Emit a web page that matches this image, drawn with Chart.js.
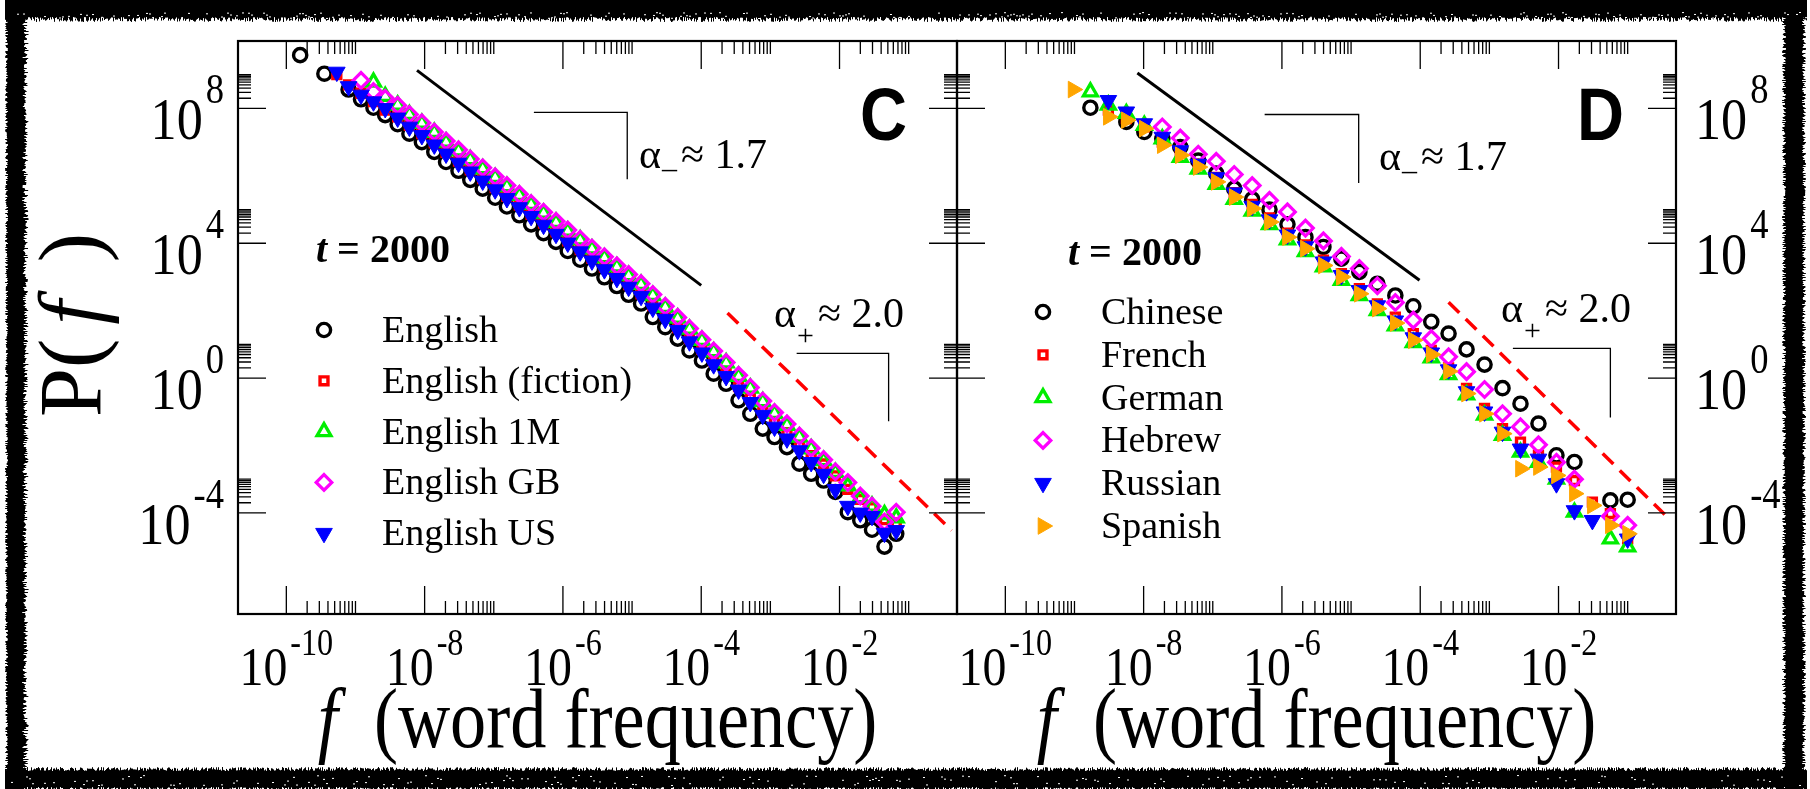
<!DOCTYPE html>
<html>
<head>
<meta charset="utf-8">
<script src="https://cdn.jsdelivr.net/npm/chart.js@4.4.1/dist/chart.umd.min.js"></script>
<style>
  html, body { margin: 0; padding: 0; background: #fff; }
  #wrap { position: relative; width: 1810px; height: 789px; overflow: hidden; background: #fff; }
  #wrap canvas { position: absolute; left: 0; top: 0; }
</style>
</head>
<body>
<div id="wrap">
  <canvas id="frame" width="1810" height="789"></canvas>
  <canvas id="chartC" width="1810" height="789"></canvas>
  <canvas id="chartD" width="1810" height="789"></canvas>
</div>
<script>
// ---- panel C: English corpora, log10 f bins and log10 P(f) ----
const binsC = [-9.80, -9.62, -9.45, -9.27, -9.10, -8.92, -8.74, -8.57, -8.39, -8.22,
  -8.04, -7.86, -7.69, -7.51, -7.34, -7.16, -6.98, -6.81, -6.63, -6.46,
  -6.28, -6.10, -5.93, -5.75, -5.58, -5.40, -5.22, -5.05, -4.87, -4.70,
  -4.52, -4.34, -4.17, -3.99, -3.82, -3.64, -3.46, -3.29, -3.11, -2.94,
  -2.76, -2.58, -2.41, -2.23, -2.06, -1.88, -1.70, -1.53, -1.35, -1.18];
const pEnglish = [9.58, null, 9.03, null, 8.56, 8.27, 8.02, 7.80, 7.53, 7.25,
  7.00, 6.71, 6.41, 6.15, 5.88, 5.62, 5.35, 5.09, 4.83, 4.56,
  4.30, 4.04, 3.77, 3.51, 3.25, 2.99, 2.73, 2.47, 2.21, 1.81,
  1.51, 1.17, 0.82, 0.52, 0.13, -0.17, -0.66, -1.06, -1.50, -1.75,
  -2.05, -2.54, -2.84, -3.04, -3.38, -3.98, -4.22, -4.50, -5.00, -4.62];
const pFiction = [null, null, null, 9.00, 8.70, 8.45, 8.20, 7.95, 7.75, 7.50,
  7.25, 6.98, 6.70, 6.44, 6.18, 5.92, 5.65, 5.39, 5.13, 4.86,
  4.60, 4.34, 4.07, 3.81, 3.55, 3.29, 3.03, 2.77, 2.50, 2.15,
  1.85, 1.50, 1.17, 0.85, 0.50, 0.15, -0.25, -0.60, -1.00, -1.30,
  -1.62, -2.00, -2.30, -2.55, -2.90, -3.30, -3.60, -3.85, -4.20, -4.30];
const p1M = [null, null, null, null, null, null, 8.78, 8.36, 8.10, 7.82,
  7.56, 7.29, 7.00, 6.74, 6.48, 6.21, 5.95, 5.68, 5.42, 5.15,
  4.89, 4.62, 4.36, 4.10, 3.83, 3.57, 3.30, 3.04, 2.78, 2.45,
  2.10, 1.78, 1.45, 1.12, 0.78, 0.45, 0.05, -0.30, -0.70, -1.05,
  -1.40, -1.75, -2.10, -2.45, -2.80, -3.20, -3.55, -3.80, -4.05, -4.15];
const pGB = [null, null, null, null, null, 8.83, 8.50, 8.30, 8.09, 7.82,
  7.57, 7.30, 7.03, 6.77, 6.50, 6.24, 5.97, 5.71, 5.45, 5.18,
  4.92, 4.65, 4.39, 4.12, 3.86, 3.60, 3.33, 3.07, 2.80, 2.48,
  2.13, 1.80, 1.47, 1.14, 0.80, 0.46, 0.08, -0.28, -0.68, -1.02,
  -1.36, -1.72, -2.08, -2.42, -2.78, -3.10, -3.50, -3.80, -4.27, -3.98];
const pUS = [null, null, null, 9.08, 8.65, 8.40, 8.20, 8.00, 7.72, 7.45,
  7.20, 6.92, 6.65, 6.38, 6.12, 5.85, 5.59, 5.33, 5.06, 4.80,
  4.54, 4.27, 4.01, 3.75, 3.48, 3.22, 2.96, 2.70, 2.43, 2.08,
  1.75, 1.42, 1.08, 0.75, 0.40, 0.05, -0.35, -0.72, -1.10, -1.45,
  -1.80, -2.15, -2.50, -2.85, -3.30, -3.80, -4.00, -4.10, -4.60, -4.52];

// ---- panel D: other languages ----
const binsD = [-9.02, -8.77, -8.51, -8.25, -7.99, -7.73, -7.47, -7.21, -6.95, -6.69,
  -6.43, -6.18, -5.92, -5.66, -5.40, -5.14, -4.88, -4.62, -4.36, -4.10,
  -3.84, -3.59, -3.33, -3.07, -2.81, -2.55, -2.29, -2.03, -1.77, -1.51,
  -1.25, -1.00];
const pChinese = [null, 8.02, null, 7.60, 7.30, 7.10, 6.85, 6.45, 6.07, 5.62,
  5.30, 5.00, 4.56, 4.18, 3.89, 3.54, 3.15, 2.80, 2.45, 2.13,
  1.67, 1.32, 0.85, 0.40, -0.30, -0.76, -1.35, -2.29, -2.49, null,
  -3.63, -3.61];
const pFrench = [null, null, 7.95, 7.70, 7.45, 7.00, 6.70, 6.35, 5.95, 5.50,
  5.15, 4.75, 4.30, 3.95, 3.50, 3.10, 2.65, 2.20, 1.81, 1.32,
  0.82, 0.30, -0.31, -0.90, -1.50, -1.90, -2.29, -2.64, -3.04, -3.68,
  -4.02, -4.77];
const pGerman = [null, 8.49, 8.10, 7.85, 7.50, 7.10, 6.55, 6.20, 5.75, 5.30,
  4.95, 4.55, 4.10, 3.75, 3.30, 2.90, 2.45, 2.00, 1.55, 1.05,
  0.60, 0.10, -0.50, -1.10, -1.70, -2.20, -2.50, -3.00, -3.98, null,
  -4.77, -5.01];
const pHebrew = [null, null, null, null, null, 7.45, 7.12, 6.64, 6.43, 6.04,
  5.71, 5.27, 4.93, 4.45, 4.07, 3.61, 3.25, 2.74, 2.24, 1.72,
  1.17, 0.63, 0.19, -0.34, -1.06, -1.45, -1.98, -2.50, -3.00, null,
  -4.10, -4.37];
const pRussian = [null, null, 8.24, 7.90, 7.55, 7.15, 6.75, 6.35, 5.95, 5.50,
  5.10, 4.70, 4.25, 3.90, 3.45, 3.05, 2.60, 2.15, 1.70, 1.20,
  0.75, 0.25, -0.40, -1.00, -1.60, -2.10, -2.40, -3.13, -3.93, -4.22,
  null, -4.77];
const pSpanish = [8.56, null, 7.75, 7.65, 7.40, 6.91, 6.61, 6.26, 5.82, 5.37,
  5.03, 4.63, 4.18, 3.84, 3.34, 3.00, 2.50, 2.06, 1.63, 1.12,
  0.70, 0.20, -0.46, -1.06, -1.65, -2.69, -2.64, -2.89, -3.43, -3.78,
  -4.37, -4.62];

// guide lines and slope brackets (log10 f, log10 P)
const slopeMinusC = { x: [-8.11, -4.00], y: [9.13, 2.75] };
const slopePlusC = { x: [-3.62, -0.38], y: [1.93, -4.52] };
const slopeMinusD = { x: [-8.09, -4.01], y: [9.05, 2.90] };
const slopePlusD = { x: [-3.59, -0.38], y: [2.25, -4.22] };
const bracketMinusC = { x: [-6.42, -5.07, -5.07], y: [7.88, 7.88, 5.90] };
const bracketPlusC = { x: [-2.62, -1.29, -1.29], y: [0.73, 0.73, -1.28] };
const bracketMinusD = { x: [-6.25, -4.89, -4.89], y: [7.82, 7.82, 5.79] };
const bracketPlusD = { x: [-2.66, -1.25, -1.25], y: [0.88, 0.88, -1.17] };

// axis ticks (exponents)
const xMajor = [-10, -8, -6, -4, -2];
const yMajor = [-4, 0, 4, 8];

const SERIF = '"Liberation Serif", "Times New Roman", serif';
const NARROW = 0.87;

function toPoints(bins, vals) {
  const pts = [];
  bins.forEach((b, i) => { if (vals[i] !== null) pts.push({ x: 10 ** b, y: 10 ** vals[i] }); });
  return pts;
}
function toLine(g) { return g.x.map((v, i) => ({ x: 10 ** v, y: 10 ** g.y[i] })); }

function markerSet(label, pts, m, order) {
  return {
    label, data: pts, showLine: false, order,
    pointStyle: m.style, pointRadius: m.r, pointRotation: m.rot || 0,
    pointBorderWidth: m.bw, pointBorderColor: m.color,
    pointBackgroundColor: m.fill ? m.color : 'rgba(0,0,0,0)'
  };
}
function guideSet(g, color, width, dash) {
  return { data: toLine(g), showLine: true, borderColor: color, borderWidth: width,
    borderDash: dash || [], pointRadius: 0, order: 30, fill: false };
}

const M = {
  circle: { style: 'circle', r: 6.6, bw: 3.4, color: '#000000' },
  square: { style: 'rect', r: 5.6, bw: 3.4, color: '#ff0000' },
  up: { style: 'triangle', r: 8, bw: 3.3, color: '#00ee00' },
  diamond: { style: 'rectRot', r: 7.8, bw: 3.2, color: '#ff00ff' },
  down: { style: 'triangle', rot: 180, r: 9.6, bw: 1, color: '#0000ff', fill: true },
  right: { style: 'triangle', rot: 90, r: 9.6, bw: 1, color: '#ffa500', fill: true }
};

// "10" with a raised exponent
function powLabel(ctx, exp, x, base, align, big, small, raise) {
  ctx.font = big + 'px ' + SERIF;
  const w1 = ctx.measureText('10').width * NARROW;
  ctx.font = small + 'px ' + SERIF;
  const w2 = ctx.measureText(exp).width * NARROW;
  const gap = 3;
  const total = w1 + gap + w2;
  const left = align === 'right' ? x - total : align === 'center' ? x - total / 2 : x;
  ctx.save();
  ctx.translate(left, base);
  ctx.scale(NARROW, 1);
  ctx.font = big + 'px ' + SERIF;
  ctx.fillText('10', 0, 0);
  ctx.font = small + 'px ' + SERIF;
  ctx.fillText(exp, (w1 + gap) / NARROW, -raise);
  ctx.restore();
}

function alphaLabel(ctx, x, base, sub, value) {
  ctx.font = '42px ' + SERIF;
  ctx.fillText('\u03b1', x, base);
  let cx = x + ctx.measureText('\u03b1').width + 1;
  ctx.font = '30px ' + SERIF;
  const s = sub === '+' ? '+' : '\u2013';
  ctx.fillText(s, cx, base + (sub === '+' ? 18 : 10));
  cx += ctx.measureText(s).width + 4;
  ctx.font = '42px ' + SERIF;
  ctx.fillText('\u2248 ' + value, cx, base);
}

function yearLabel(ctx, x, base) {
  ctx.font = 'italic bold 40px ' + SERIF;
  ctx.fillText('t', x, base);
  const w = ctx.measureText('t').width;
  ctx.font = 'bold 40px ' + SERIF;
  ctx.fillText(' = 2000', x + w, base);
}

function xTitle(ctx, cx, base) {
  const it = 'italic 84px ' + SERIF, n = '84px ' + SERIF;
  ctx.font = it; const w1 = ctx.measureText('f').width;
  ctx.font = n; const w2 = ctx.measureText('  (word frequency)').width;
  const total = (w1 + w2) * 0.86;
  ctx.save();
  ctx.translate(cx - total / 2, base);
  ctx.scale(0.86, 1);
  ctx.font = it; ctx.fillText('f', 0, 0);
  ctx.font = n; ctx.fillText('  (word frequency)', w1, 0);
  ctx.restore();
}

// vertical "P( f )", written upward from its baseline point
function yTitle(ctx, x, yStart) {
  const n = '88px ' + SERIF, it = 'italic 88px ' + SERIF;
  ctx.save();
  ctx.translate(x, yStart);
  ctx.rotate(-Math.PI / 2);
  ctx.font = n;
  const w1 = ctx.measureText('P(').width;
  ctx.fillText('P(', 0, 0);
  ctx.font = it;
  const w2 = ctx.measureText('f').width;
  ctx.fillText('f', w1 + 14, 0);
  ctx.font = n;
  ctx.fillText(')', w1 + 14 + w2 + 38, 0);
  ctx.restore();
}

const decor = {
  id: 'decor',
  afterDatasetsDraw(chart, args, o) {
    const { ctx, chartArea: a, scales: { x, y } } = chart;
    ctx.save();
    ctx.strokeStyle = '#000';
    ctx.lineWidth = 1.3;
    ctx.beginPath();
    xMajor.forEach(e => {
      const p = x.getPixelForValue(10 ** e);
      ctx.moveTo(p, a.bottom); ctx.lineTo(p, a.bottom - 28);
      ctx.moveTo(p, a.top); ctx.lineTo(p, a.top + 28);
      for (let k = 2; k <= 10; k++) {
        const q = x.getPixelForValue(k * 10 ** e);
        ctx.moveTo(q, a.bottom); ctx.lineTo(q, a.bottom - 13);
        ctx.moveTo(q, a.top); ctx.lineTo(q, a.top + 13);
      }
    });
    yMajor.forEach(e => {
      const p = y.getPixelForValue(10 ** e);
      ctx.moveTo(a.left, p); ctx.lineTo(a.left + 28, p);
      ctx.moveTo(a.right, p); ctx.lineTo(a.right - 28, p);
      for (let k = 2; k <= 10; k++) {
        const q = y.getPixelForValue(k * 10 ** e);
        ctx.moveTo(a.left, q); ctx.lineTo(a.left + 13, q);
        ctx.moveTo(a.right, q); ctx.lineTo(a.right - 13, q);
      }
    });
    ctx.stroke();
    ctx.lineWidth = 2.2;
    ctx.strokeRect(a.left, a.top, a.right - a.left, a.bottom - a.top);
    ctx.restore();
  },
  afterDraw(chart, args, o) {
    const { ctx, chartArea: a, scales: { x, y } } = chart;
    ctx.save();
    ctx.fillStyle = '#000';
    ctx.textBaseline = 'alphabetic';

    xMajor.forEach(e => powLabel(ctx, String(e), x.getPixelForValue(10 ** e), a.bottom + 71, 'center', 55, 37, 30));
    yMajor.forEach(e => {
      const p = y.getPixelForValue(10 ** e);
      if (o.labelSide === 'left') powLabel(ctx, String(e), a.left - 14, p + 31, 'right', 60, 42, 36);
      else powLabel(ctx, String(e), a.right + 19, p + 31, 'left', 60, 42, 36);
    });

    xTitle(ctx, (a.left + a.right) / 2, 747);
    if (o.labelSide === 'left') yTitle(ctx, 100, 417);

    // panel letter
    ctx.save();
    ctx.translate(a.left + o.letterX, 140);
    ctx.scale(0.88, 1);
    ctx.font = 'bold 74px "Liberation Sans", Arial, sans-serif';
    ctx.fillText(o.letter, 0, 0);
    ctx.restore();

    alphaLabel(ctx, a.left + o.alphaMinus[0], o.alphaMinus[1], '-', '1.7');
    alphaLabel(ctx, a.left + o.alphaPlus[0], o.alphaPlus[1], '+', '2.0');
    yearLabel(ctx, a.left + o.year[0], o.year[1]);

    // legend, drawn with the datasets' own point styles
    const draw = Chart.helpers && Chart.helpers.drawPoint;
    o.legend.forEach((idx, i) => {
      const ds = chart.data.datasets[idx];
      const cy = o.legendTop + i * o.legendStep;
      ctx.save();
      ctx.strokeStyle = ds.pointBorderColor;
      ctx.fillStyle = ds.pointBackgroundColor;
      ctx.lineWidth = ds.pointBorderWidth;
      draw(ctx, { pointStyle: ds.pointStyle, rotation: ds.pointRotation, radius: ds.pointRadius,
        borderWidth: ds.pointBorderWidth }, a.left + o.legendX, cy);
      ctx.restore();
      ctx.font = '38px ' + SERIF;
      ctx.fillText(ds.label, a.left + o.legendX + 58, cy + 12);
    });
    ctx.restore();
  }
};

function makePanel(id, left, right, datasets, opts) {
  return new Chart(document.getElementById(id), {
    type: 'scatter',
    data: { datasets },
    options: {
      responsive: false,
      animation: false,
      events: [],
      layout: { padding: { left, right: 1810 - right, top: 41, bottom: 789 - 614 } },
      scales: {
        x: { type: 'logarithmic', min: 2e-11, max: 0.5, display: false },
        y: { type: 'logarithmic', min: 1e-7, max: 1e10, display: false }
      },
      plugins: { legend: { display: false }, tooltip: { enabled: false }, decor: opts }
    },
    plugins: [decor]
  });
}

makePanel('chartC', 238, 957, [
  markerSet('English', toPoints(binsC, pEnglish), M.circle, 9),
  markerSet('English (fiction)', toPoints(binsC, pFiction), M.square, 8),
  markerSet('English 1M', toPoints(binsC, p1M), M.up, 7),
  markerSet('English GB', toPoints(binsC, pGB), M.diamond, 6),
  markerSet('English US', toPoints(binsC, pUS), M.down, 5),
  guideSet(slopeMinusC, '#000', 3),
  guideSet(slopePlusC, '#ff0000', 3.5, [15, 9]),
  guideSet(bracketMinusC, '#000', 1.3),
  guideSet(bracketPlusC, '#000', 1.3)
], {
  labelSide: 'left', letter: 'C', letterX: 622,
  alphaMinus: [401, 168], alphaPlus: [536, 327], year: [78, 262],
  legend: [0, 1, 2, 3, 4], legendX: 86, legendTop: 330, legendStep: 50.8
});

makePanel('chartD', 957, 1676, [
  markerSet('Chinese', toPoints(binsD, pChinese), M.circle, 9),
  markerSet('French', toPoints(binsD, pFrench), M.square, 8),
  markerSet('German', toPoints(binsD, pGerman), M.up, 7),
  markerSet('Hebrew', toPoints(binsD, pHebrew), M.diamond, 6),
  markerSet('Russian', toPoints(binsD, pRussian), M.down, 5),
  markerSet('Spanish', toPoints(binsD, pSpanish), M.right, 4),
  guideSet(slopeMinusD, '#000', 3),
  guideSet(slopePlusD, '#ff0000', 3.5, [15, 9]),
  guideSet(bracketMinusD, '#000', 1.3),
  guideSet(bracketPlusD, '#000', 1.3)
], {
  labelSide: 'right', letter: 'D', letterX: 620,
  alphaMinus: [422, 170], alphaPlus: [544, 322], year: [111, 265],
  legend: [0, 1, 2, 3, 4, 5], legendX: 86, legendTop: 312, legendStep: 42.8
});

// rough black border round the whole figure
(function drawBorder() {
  const c = document.getElementById('frame').getContext('2d');
  const grain = i => { const s = Math.sin(i * 127.1 + 311.7) * 43758.5453; return s - Math.floor(s); };
  c.fillStyle = '#000';
  for (let i = 5; i < 1807; i++) {
    c.fillRect(i, 0, 1, 17 + grain(i) * 5);
    c.fillRect(i, 771 - grain(i + 900) * 4, 1, 20);
  }
  for (let j = 0; j < 789; j++) {
    c.fillRect(5 + grain(j + 3000) * 3, j, 17 + grain(j + 5000) * 4, 1);
    c.fillRect(1786 - grain(j + 7000) * 4, j, 20, 1);
  }
  c.fillStyle = '#fff';
  for (let i = 5; i < 1807; i += 3) {
    if (grain(i + 11000) > 0.55) c.fillRect(i, 12 + grain(i + 13000) * 6, 2, 1);
    if (grain(i + 15000) > 0.7) c.fillRect(i, 775 + grain(i + 17000) * 10, 2, 1);
  }
})();
</script>
</body>
</html>
